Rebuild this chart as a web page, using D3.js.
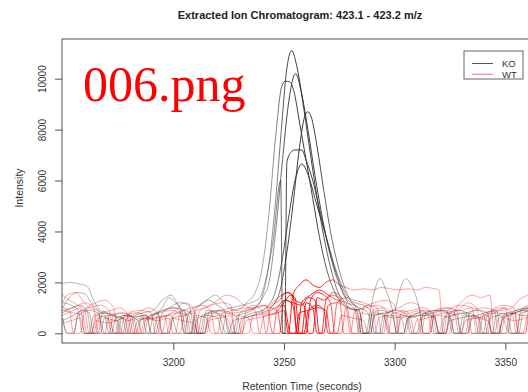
<!DOCTYPE html>
<html><head><meta charset="utf-8">
<script src="https://cdn.jsdelivr.net/npm/d3@7"></script>
<style>html,body{margin:0;padding:0;background:#fff;overflow:hidden}</style>
</head><body><svg id="c" width="528" height="392"></svg>
<script>
// ---- data (retention time s, intensity) ----
const xTicks = [3200, 3250, 3300, 3350];
const yTicks = [0, 2000, 4000, 6000, 8000, 10000];
const groups = ["KO", "WT"];

const KO_A = [[3150,1950],[3153,2000],[3157,1950],[3161,1850],[3164,1300],[3167,900],[3170,800],[3172,0],[3175,0],[3177,700],[3182,650],[3186,700],[3188,0],[3191,0],[3193,800],[3198,1000],[3203,1200],[3207,1100],[3210,0],[3213,0],[3215,900],[3220,800],[3224,0],[3227,0],[3229,700],[3233,800],[3237,1000],[3240,1400],[3243,2600],[3246,5000],[3249,8200],[3251,10200],[3253.5,11100],[3256,10400],[3259,8800],[3262,7000],[3265,5300],[3268,3800],[3271,2600],[3274,1700],[3277,1200],[3281,950],[3283,900],[3285,0],[3288,0],[3290,800],[3294,900],[3299,700],[3301,0],[3304,0],[3306,600],[3312,700],[3318,650],[3320,0],[3323,0],[3325,700],[3332,800],[3338,600],[3340,0],[3344,0],[3346,700],[3352,800],[3358,700],[3362,750]];
const KO_B = [[3150,1000],[3153,1400],[3157,1600],[3160,1550],[3163,1200],[3166,900],[3169,700],[3171,0],[3174,0],[3176,600],[3180,500],[3184,650],[3188,700],[3190,0],[3192,0],[3194,600],[3199,700],[3202,0],[3205,0],[3207,800],[3212,1100],[3216,1300],[3220,1100],[3223,900],[3225,0],[3228,0],[3230,800],[3234,900],[3238,1100],[3241,1500],[3243,1900],[3246,3800],[3249,6500],[3252,9000],[3255.2,10200],[3258,9400],[3261,7900],[3264,6200],[3267,4700],[3270,3400],[3273,2400],[3276,1700],[3279,1200],[3282,950],[3284,0],[3287,0],[3289,900],[3291,1700],[3293.5,2150],[3296,1700],[3299,900],[3301,0],[3304,0],[3306,600],[3311,700],[3316,800],[3318,0],[3321,0],[3323,700],[3328,900],[3333,800],[3335,0],[3338,0],[3340,700],[3346,800],[3351,700],[3353,0],[3356,0],[3358,800],[3362,900]];
const KO_C = [[3150,600],[3152,0],[3155,0],[3157,700],[3162,900],[3166,800],[3169,0],[3172,0],[3174,600],[3179,700],[3184,500],[3186,0],[3189,0],[3191,700],[3196,900],[3200,1000],[3203,900],[3205,0],[3208,0],[3210,900],[3215,1300],[3219,1500],[3222,1300],[3225,1000],[3229,900],[3233,1200],[3237,1600],[3240,2500],[3243,4500],[3246,7500],[3249,9700],[3250.5,9900],[3252.5,9880],[3254.5,9500],[3257,8300],[3260,6800],[3263,5300],[3266,3800],[3269,2600],[3272,1800],[3275,1300],[3279,1000],[3284,900],[3286,0],[3289,0],[3291,700],[3296,800],[3300,900],[3302,1600],[3305,2150],[3308,1800],[3311,1000],[3313,0],[3316,0],[3318,700],[3323,800],[3328,700],[3330,0],[3333,0],[3335,600],[3341,800],[3346,900],[3348,0],[3351,0],[3353,800],[3358,1000],[3362,1200]];
const KO_D = [[3150,500],[3155,700],[3159,900],[3162,800],[3164,0],[3167,0],[3169,600],[3174,500],[3178,600],[3180,0],[3183,0],[3185,500],[3190,700],[3195,1000],[3198,1400],[3201,1200],[3204,800],[3206,0],[3209,0],[3211,600],[3216,700],[3220,600],[3222,0],[3225,0],[3227,500],[3232,600],[3236,700],[3240,800],[3244,1000],[3248,1600],[3251,3000],[3254,5000],[3257,7300],[3259,8400],[3260.7,8700],[3262.3,8500],[3265,7300],[3268,5600],[3271,4000],[3274,2800],[3277,1900],[3280,1300],[3284,1000],[3288,800],[3290,0],[3293,0],[3295,700],[3300,600],[3305,700],[3307,0],[3310,0],[3312,600],[3317,800],[3322,900],[3325,700],[3327,0],[3330,0],[3332,700],[3337,600],[3342,500],[3344,0],[3347,0],[3349,600],[3354,800],[3359,900],[3362,800]];
const KO_E = [[3150,800],[3154,1000],[3158,1100],[3161,900],[3163,0],[3166,0],[3168,800],[3173,700],[3177,600],[3179,0],[3182,0],[3184,500],[3189,600],[3193,800],[3195,0],[3198,0],[3200,700],[3205,900],[3209,700],[3211,0],[3214,0],[3216,800],[3221,900],[3226,1000],[3231,1100],[3235,1200],[3239,1400],[3242,2200],[3245,3600],[3248.5,6000],[3249.4,0],[3250.4,0],[3251.3,6700],[3253,7100],[3255,7200],[3258,7200],[3260,6800],[3263,6000],[3266,4900],[3269,3800],[3272,2800],[3275,2000],[3278,1400],[3282,1100],[3284,900],[3286,0],[3289,0],[3291,800],[3295,700],[3298,0],[3301,0],[3303,600],[3308,700],[3314,900],[3318,700],[3320,0],[3323,0],[3325,500],[3330,600],[3336,700],[3338,0],[3341,0],[3343,600],[3348,700],[3352,0],[3355,0],[3357,900],[3362,1000]];
const KO_F = [[3150,1200],[3154,1100],[3157,900],[3159,0],[3162,0],[3164,700],[3169,800],[3174,700],[3176,0],[3179,0],[3181,600],[3186,800],[3191,900],[3195,1300],[3199,1500],[3203,1000],[3206,700],[3208,0],[3211,0],[3213,700],[3218,800],[3223,700],[3226,0],[3229,0],[3231,600],[3236,800],[3240,900],[3243,1100],[3246,1600],[3249,2800],[3252,4500],[3255,6000],[3258,6650],[3261,6200],[3264,5300],[3267,4400],[3270,3500],[3273,2600],[3276,1900],[3279,1400],[3282,1200],[3286,1100],[3289,900],[3291,0],[3294,0],[3296,800],[3301,900],[3306,700],[3308,0],[3311,0],[3313,800],[3319,900],[3324,800],[3326,0],[3329,0],[3331,700],[3337,900],[3342,800],[3344,0],[3347,0],[3349,700],[3355,900],[3360,1000],[3362,900]];

const WT_1 = [[3150,1500],[3153,1300],[3157,1100],[3160,900],[3162,0],[3165,0],[3167,800],[3172,900],[3176,1000],[3179,800],[3181,0],[3184,0],[3186,700],[3191,600],[3196,700],[3198,0],[3201,0],[3203,800],[3208,1000],[3213,1100],[3217,900],[3219,0],[3222,0],[3224,800],[3229,700],[3234,600],[3236,0],[3239,0],[3241,700],[3246,800],[3250,1200],[3253,1500],[3255,1400],[3257,0],[3260,0],[3262,1300],[3265,1600],[3268,1500],[3271,1200],[3273,0],[3276,0],[3278,1000],[3283,900],[3288,1100],[3292,1000],[3294,0],[3297,0],[3299,800],[3304,700],[3310,600],[3312,0],[3315,0],[3317,700],[3322,900],[3327,800],[3329,0],[3332,0],[3334,800],[3340,1000],[3345,900],[3347,0],[3350,0],[3352,700],[3358,900],[3362,1000]];
const WT_2 = [[3150,900],[3155,1000],[3160,1200],[3164,1000],[3166,0],[3169,0],[3171,700],[3176,600],[3181,700],[3183,0],[3186,0],[3188,600],[3193,500],[3198,600],[3200,0],[3203,0],[3205,700],[3210,900],[3215,1000],[3220,1300],[3224,1500],[3228,1400],[3232,1100],[3236,1000],[3240,1100],[3244,1000],[3247,900],[3249,0],[3252,0],[3254,1500],[3257,1900],[3260,2100],[3263,1900],[3266,1800],[3269,2000],[3272,2100],[3275,1900],[3278,1800],[3282,1700],[3286,1750],[3290,1700],[3294,1800],[3298,1750],[3302,1700],[3306,1750],[3310,1700],[3314,1800],[3318,1750],[3320,1700],[3322,0],[3325,0],[3327,800],[3331,1300],[3335,1500],[3339,1400],[3343,1500],[3345,0],[3348,0],[3350,700],[3354,800],[3356,0],[3359,0],[3361,1400],[3362,1600]];
const WT_3 = [[3150,1200],[3152,1500],[3156,1600],[3159,1300],[3162,1000],[3166,900],[3168,0],[3171,0],[3173,700],[3178,800],[3182,600],[3184,0],[3187,0],[3189,700],[3194,800],[3199,900],[3203,800],[3205,0],[3208,0],[3210,700],[3215,600],[3217,0],[3220,0],[3222,800],[3227,900],[3232,1000],[3237,900],[3239,0],[3242,0],[3244,1000],[3248,1300],[3251,1600],[3254,1500],[3256,0],[3258,0],[3260,1200],[3263,1000],[3265,0],[3267,0],[3269,1300],[3272,1500],[3275,1400],[3277,0],[3280,0],[3282,900],[3287,1000],[3292,1100],[3296,900],[3298,0],[3301,0],[3303,800],[3308,900],[3313,1000],[3317,800],[3319,0],[3322,0],[3324,900],[3330,1100],[3335,1000],[3337,0],[3340,0],[3342,800],[3348,900],[3353,1000],[3356,1300],[3360,1500],[3362,1600]];
const WT_4 = [[3150,600],[3152,0],[3155,0],[3157,800],[3162,1000],[3167,1100],[3171,900],[3173,0],[3176,0],[3178,700],[3183,800],[3188,700],[3190,0],[3193,0],[3195,800],[3200,1000],[3205,900],[3207,0],[3210,0],[3212,900],[3217,1100],[3222,1200],[3226,1100],[3228,0],[3231,0],[3233,900],[3238,1000],[3242,1100],[3245,0],[3248,0],[3250,1300],[3254,1200],[3258,1100],[3261,1400],[3264,1300],[3266,0],[3268,0],[3270,1100],[3274,1200],[3278,1000],[3280,0],[3283,0],[3285,800],[3290,700],[3295,800],[3297,0],[3300,0],[3302,700],[3307,800],[3312,900],[3315,700],[3317,0],[3320,0],[3322,600],[3327,700],[3332,800],[3334,0],[3337,0],[3339,700],[3344,900],[3349,1000],[3353,800],[3355,0],[3358,0],[3360,700],[3362,800]];
const WT_5 = [[3150,900],[3155,800],[3159,700],[3161,0],[3164,0],[3166,600],[3171,700],[3176,800],[3180,700],[3182,0],[3185,0],[3187,500],[3192,600],[3197,700],[3201,900],[3205,1200],[3209,1000],[3211,0],[3214,0],[3216,600],[3221,700],[3225,500],[3227,0],[3230,0],[3232,600],[3237,700],[3242,800],[3246,1000],[3250,1100],[3253,0],[3256,0],[3258,1200],[3262,1500],[3266,1700],[3270,1500],[3274,1300],[3278,1200],[3281,0],[3284,0],[3286,1000],[3291,1200],[3296,1300],[3300,1100],[3302,0],[3305,0],[3307,700],[3312,800],[3318,600],[3320,0],[3323,0],[3325,800],[3330,900],[3335,1000],[3340,800],[3342,0],[3345,0],[3347,600],[3352,700],[3357,900],[3362,1100]];
const WT_6 = [[3150,400],[3154,500],[3158,600],[3160,0],[3163,0],[3165,500],[3170,400],[3175,500],[3177,0],[3180,0],[3182,500],[3187,600],[3192,500],[3194,0],[3197,0],[3199,600],[3204,500],[3209,400],[3211,0],[3214,0],[3216,500],[3221,600],[3226,700],[3228,0],[3231,0],[3233,500],[3238,600],[3243,700],[3247,800],[3250,900],[3252,0],[3255,0],[3257,800],[3261,900],[3265,1000],[3269,900],[3271,0],[3274,0],[3276,700],[3281,600],[3286,500],[3288,0],[3291,0],[3293,600],[3298,700],[3303,600],[3305,0],[3308,0],[3310,500],[3315,600],[3320,700],[3325,600],[3327,0],[3330,0],[3332,500],[3337,600],[3342,700],[3344,0],[3347,0],[3349,600],[3354,500],[3359,600],[3362,700]];
const WT_7 = [[3150,1000],[3153,900],[3155,0],[3158,0],[3160,900],[3165,1200],[3169,1300],[3173,1000],[3175,0],[3178,0],[3180,800],[3185,900],[3190,800],[3192,0],[3195,0],[3197,700],[3202,800],[3207,700],[3209,0],[3212,0],[3214,700],[3219,900],[3224,800],[3229,600],[3231,0],[3234,0],[3236,700],[3241,900],[3245,1200],[3249,1500],[3252,1600],[3255,1300],[3259,1100],[3261,0],[3263,0],[3265,1400],[3268,1300],[3272,1600],[3275,1500],[3278,1200],[3282,1100],[3285,0],[3288,0],[3290,900],[3295,1000],[3300,800],[3304,900],[3307,700],[3309,0],[3312,0],[3314,800],[3319,900],[3324,1000],[3328,900],[3330,0],[3333,0],[3335,700],[3340,600],[3345,800],[3350,1000],[3352,0],[3355,0],[3357,800],[3362,900]];
const WT_8 = [[3150,700],[3155,900],[3158,1000],[3160,0],[3163,0],[3165,700],[3170,600],[3174,0],[3177,0],[3179,600],[3184,800],[3189,1000],[3193,800],[3195,0],[3198,0],[3200,600],[3205,700],[3210,800],[3212,0],[3215,0],[3217,700],[3222,900],[3227,800],[3232,900],[3236,1100],[3240,900],[3242,0],[3245,0],[3247,1000],[3251,1300],[3254,1100],[3256,0],[3259,0],[3261,900],[3265,1100],[3268,900],[3270,0],[3272,0],[3274,1200],[3278,1400],[3282,1300],[3286,1200],[3290,1000],[3292,0],[3295,0],[3297,800],[3302,1000],[3307,1200],[3311,1100],[3313,0],[3316,0],[3318,900],[3323,1000],[3328,900],[3333,1200],[3337,1000],[3339,0],[3342,0],[3344,900],[3349,1100],[3354,1000],[3356,0],[3359,0],[3361,900],[3362,1000]];

const koSeries = [KO_A, KO_B, KO_C, KO_D, KO_E, KO_F];
const wtSeries = [WT_1, WT_2, WT_3, WT_4, WT_5, WT_6, WT_7, WT_8];

// ---- layout ----
const svg = d3.select("#c");
const L = 62, R = 541, T = 39, B = 343;
const x = d3.scaleLinear().domain([3149.73, 3366.1]).range([L, R]);
const y = d3.scaleLinear().domain([-381, 11559]).range([B, T]);

const defs = svg.append("defs");
defs.append("clipPath").attr("id","clip").append("rect")
  .attr("x", L).attr("y", T).attr("width", R-L).attr("height", B-T);

// opacity fades away from the elution window
const fade = [[3150,0.36],[3238,0.37],[3243,0.45],[3247,0.6],[3251,0.88],[3258,0.95],[3266,0.88],[3272,0.65],[3279,0.45],[3288,0.37],[3366,0.35]];
function grad(id, color){
  const g = defs.append("linearGradient").attr("id", id)
    .attr("gradientUnits","userSpaceOnUse")
    .attr("x1", x(3149.73)).attr("x2", x(3366.1)).attr("y1",0).attr("y2",0);
  fade.forEach(([t,o]) => g.append("stop")
    .attr("offset", (x(t)-x(3149.73))/(x(3366.1)-x(3149.73)))
    .attr("stop-color", color).attr("stop-opacity", o));
}
grad("gKO", "#2e2e2e");
grad("gWT", "#ff0000");

const line = d3.line().x(d=>x(d[0])).y(d=>y(d[1])).curve(d3.curveMonotoneX);
const plot = svg.append("g").attr("clip-path","url(#clip)");
plot.selectAll(".wt").data(wtSeries).join("path")
  .attr("fill","none").attr("stroke","url(#gWT)").attr("stroke-width",1).attr("d", line);
plot.selectAll(".ko").data(koSeries).join("path")
  .attr("fill","none").attr("stroke","url(#gKO)").attr("stroke-width",1).attr("d", line);

// box
svg.append("rect").attr("x",L).attr("y",T).attr("width",R-L).attr("height",B-T)
  .attr("fill","none").attr("stroke","#555").attr("stroke-width",1);

// axes (R style)
const font = "Liberation Sans, Arial, sans-serif";
const xa = svg.append("g").attr("transform",`translate(0,${B})`)
  .call(d3.axisBottom(x).tickValues(xTicks).tickSize(7).tickPadding(9).tickFormat(d3.format("d")));
const ya = svg.append("g").attr("transform",`translate(${L},0)`)
  .call(d3.axisLeft(y).tickValues(yTicks).tickSize(7).tickFormat(d3.format("d")));
[xa, ya].forEach(a => {
  a.select(".domain").remove();
  a.selectAll("line").attr("stroke","#555");
  a.selectAll("text").attr("font-family",font).attr("font-size",10).attr("fill","#333");
});
ya.selectAll("text").attr("transform","rotate(-90)")
  .attr("x", 0).attr("y", -20).attr("dy","0.35em").attr("text-anchor","middle");

// titles
svg.append("text").attr("x",300).attr("y",19).attr("text-anchor","middle")
  .attr("font-family",font).attr("font-weight","bold").attr("font-size",11).attr("fill","#222")
  .text("Extracted Ion Chromatogram: 423.1 - 423.2 m/z");
svg.append("text").attr("x",302).attr("y",390).attr("text-anchor","middle")
  .attr("font-family",font).attr("font-size",10.5).attr("fill","#333")
  .text("Retention Time (seconds)");
svg.append("text").attr("transform","translate(23,188) rotate(-90)").attr("text-anchor","middle")
  .attr("font-family",font).attr("font-size",10.5).attr("fill","#333").text("Intensity");

// legend
const lg = svg.append("g");
lg.append("rect").attr("x",464).attr("y",51).attr("width",59).attr("height",28)
  .attr("fill","#fff").attr("stroke","#666").attr("stroke-width",1);
const legColors = {KO:"#555", WT:"#f47070"};
groups.forEach((g,i) => {
  const yy = 63.5 + i*10.8;
  lg.append("line").attr("x1",472).attr("x2",493).attr("y1",yy).attr("y2",yy)
    .attr("stroke",legColors[g]).attr("stroke-width",1);
  lg.append("text").attr("x",502).attr("y",yy).attr("dy","0.35em")
    .attr("font-family",font).attr("font-size",9.5).attr("fill","#333").text(g);
});

// file label overlay
svg.append("text").attr("x",83).attr("y",101).attr("font-family","Liberation Serif, Times New Roman, serif")
  .attr("font-size",50).attr("fill","#ff0000").text("006.png");
</script></body></html>
